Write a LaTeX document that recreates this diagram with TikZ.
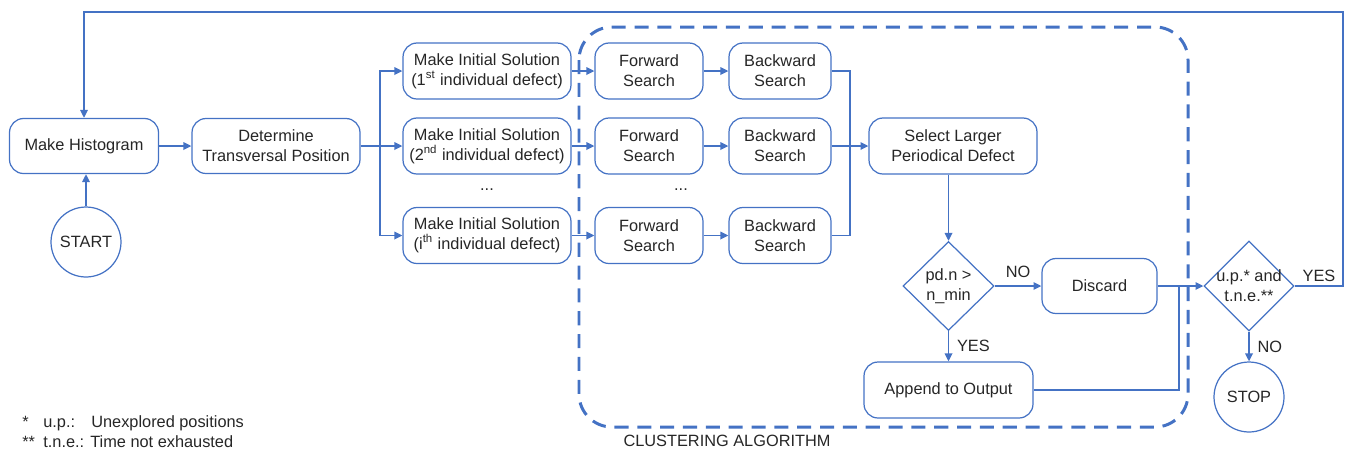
\documentclass[tikz,border=0pt]{standalone}
\usepackage{fontspec}
\setmainfont{Liberation Sans}
\usetikzlibrary{shapes.geometric}
\usetikzlibrary{arrows.meta}
\definecolor{FlowBlue}{HTML}{4472C4}
\definecolor{FlowText}{HTML}{262626}

\begin{document}
\begin{tikzpicture}[x=0.02cm, y=-0.02cm,
    font=\fontsize{9.3}{11.3}\selectfont, text=FlowText,
    box/.style={draw=FlowBlue, line width=0.7pt, rounded corners=0.28cm,
      align=center, inner sep=0pt, minimum height=1.12cm},
    terminal/.style={draw=FlowBlue, line width=0.7pt, circle,
      inner sep=0pt, minimum size=1.4cm},
    decision/.style={draw=FlowBlue, line width=0.7pt, diamond,
      align=center, inner sep=0pt, minimum width=1.82cm, minimum height=1.78cm},
    link/.style={draw=FlowBlue, line width=1.1pt},
    flow/.style={link, -{Triangle[length=4.5pt,width=4.2pt]}},
    cluster/.style={draw=FlowBlue, line width=1.7pt, dash pattern=on 8pt off 5pt,
      rounded corners=0.66cm}]
    \useasboundingbox (0,0) rectangle (1346,451);
    % Clustering frame
    \draw[cluster] (579,27) rectangle (1188,427);
    \node (clusterlabel) at (727,441) {CLUSTERING ALGORITHM};
    % Preparation
    \node[box, minimum width=2.98cm, minimum height=1.1cm] (hist) at (84,146) {Make Histogram};
    \node[terminal] (start) at (86,242) {START};
    \node[box, minimum width=3.36cm, minimum height=1.1cm] (det) at (276,146) {Determine\\Transversal Position};
    % Initial solutions
    \node[box, minimum width=3.36cm] (init1) at (487,71)
    {Make Initial Solution\\(1\textsuperscript{st} individual defect)};
    \node[box, minimum width=3.36cm] (init2) at (487,146)
    {Make Initial Solution\\(2\textsuperscript{nd} individual defect)};
    \node[box, minimum width=3.36cm] (init3) at (487,235.5)
    {Make Initial Solution\\(i\textsuperscript{th} individual defect)};
    \node (dots1) at (487,190) {...};
    % Searches
    \node[box, minimum width=2.16cm] (fwd1) at (649,71) {Forward\\Search};
    \node[box, minimum width=2.16cm] (fwd2) at (649,146) {Forward\\Search};
    \node[box, minimum width=2.16cm] (fwd3) at (649,235.5) {Forward\\Search};
    \node (dots2) at (681,190) {...};
    \node[box, minimum width=2.04cm] (bwd1) at (780,71) {Backward\\Search};
    \node[box, minimum width=2.04cm] (bwd2) at (780,146) {Backward\\Search};
    \node[box, minimum width=2.04cm] (bwd3) at (780,235.5) {Backward\\Search};
    % Selection
    \node[box, minimum width=3.36cm] (sel) at (953,146) {Select Larger\\Periodical Defect};
    \node[decision] (check) at (948.5,286) {pd.n >\\n\_min};
    \node[box, minimum width=2.3cm, minimum height=1.1cm] (discard) at (1099.5,286) {Discard};
    \node[box, minimum width=3.38cm] (append) at (948.5,390) {Append to Output};
    % Stop test
    \node[decision, minimum width=1.8cm, minimum height=1.8cm] (more) at (1249,286) {};
    \node[align=center] (moretext) at (more) {u.p.* and\\t.n.e.**};
    \node[terminal] (stop) at (1249,397) {STOP};
    % Helper points
    \coordinate (split) at (380,146);
    \coordinate (merge) at (850,146);
    \coordinate (join) at (1179,286);
    \coordinate (loop) at (1343,12);
    % Connectors
    \draw[flow] (start.north) -- (start.north |- hist.south);
    \draw[flow] (hist) -- (det);
    \draw[link] (det.east) -- (split);
    \draw[flow] (split) |- (init1.west);
    \draw[flow] (split) -- (init2.west);
    \draw[flow] (split) |- (init3.west);
    \foreach \row in {1,2,3} {
      \draw[flow] (init\row) -- (fwd\row);
      \draw[flow] (fwd\row) -- (bwd\row);
    }
    \draw[link] (bwd1.east) -| (merge);
    \draw[link] (bwd3.east) -| (merge);
    \draw[flow] (bwd2.east) -- (sel.west);
    \draw[flow] (check.north |- sel.south) -- (check.north);
    \draw[flow] (check.east) -- (discard.west)
    node[midway, above=1pt] {NO};
    \draw[flow] (check.south) -- (append.north)
    node[midway, right=1pt] {YES};
    \draw[flow] (discard.east) -- (more.west);
    \draw[link] (append.east) -| (join);
    \draw[flow] (more.east) -| (loop) -| (hist.north);
    \node (yes2) at (1319,276) {YES};
    \draw[flow] (more.south) -- (stop.north)
    node[midway, right=1pt] {NO};
    % Footnotes
    \node[anchor=west, inner sep=0pt] (note1) at (22,423)
    {\makebox[0.42cm][l]{*}\makebox[0.96cm][l]{u.p.:}Unexplored positions};
    \node[anchor=west, inner sep=0pt] (note2) at (22,442)
    {\makebox[0.42cm][l]{**}t.n.e.: Time not exhausted};
\end{tikzpicture}
\end{document}
